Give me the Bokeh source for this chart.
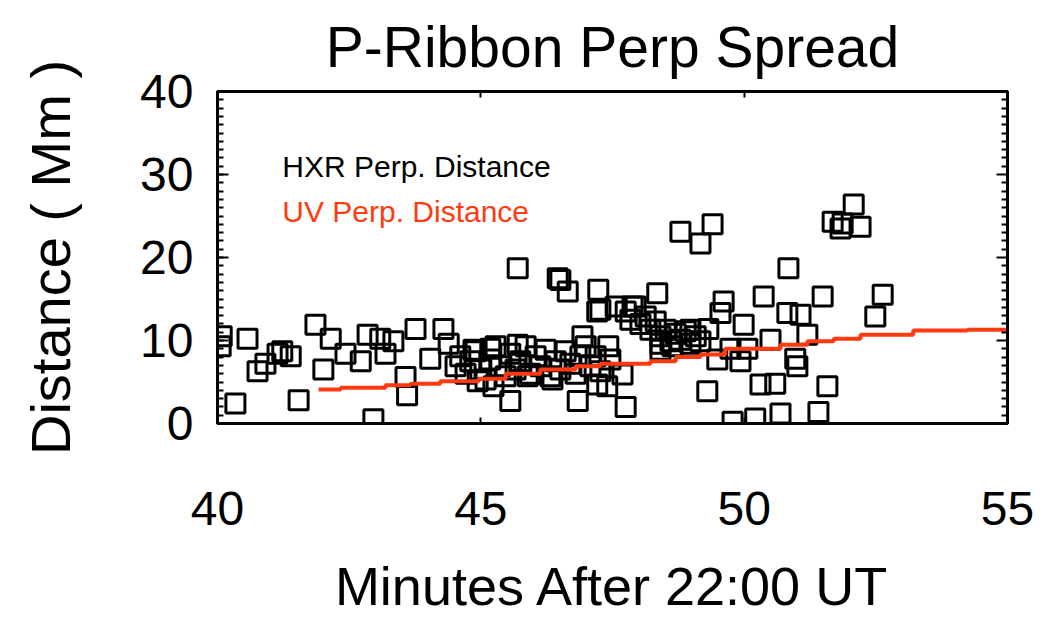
from bokeh.plotting import figure
from bokeh.models import Range1d, LinearAxis, FixedTicker, SingleIntervalTicker, Label
from bokeh.embed import file_html
from bokeh.resources import INLINE

# HXR perpendicular distance samples (minutes after 22:00 UT, Mm)
hxr_t = [40.08, 40.06, 40.57, 40.76, 40.91, 41.14, 41.23, 41.39, 40.34, 41.54,
         41.86, 42.15, 42.01, 42.43, 42.72, 42.85, 43.09, 43.34, 43.19, 42.96,
         43.57, 43.60, 43.76, 44.29, 44.39, 44.04,
         44.52, 44.61, 44.71, 44.80, 44.90, 44.99, 45.09, 45.18, 45.28, 45.37,
         45.47, 45.56, 45.66, 45.75, 45.85, 45.94, 46.04, 46.13, 46.23, 46.32,
         46.42, 46.51, 46.61, 46.70, 46.80, 46.89, 46.99, 47.08, 47.18, 47.27,
         44.94, 45.24, 45.89, 46.36, 45.56, 46.84, 46.93, 47.21, 45.70, 45.18, 44.86,
         45.70, 46.51, 46.46, 46.65, 47.23, 47.27, 48.35, 48.79, 49.17, 49.40,
         47.56, 47.88, 49.61, 49.55, 49.32, 49.99, 50.37, 50.82, 50.50, 49.49,
         49.93, 49.74, 50.06, 47.42, 47.46, 47.69, 47.21, 47.40, 47.75, 49.30,
         50.31, 50.59, 49.78, 50.21, 50.69, 48.41,
         47.75, 47.84, 47.94, 48.03, 48.13, 48.22, 48.32, 48.41, 48.51, 48.60,
         48.70, 48.79, 48.89, 48.98, 49.08, 49.17, 48.64, 48.41, 48.98,
         52.08, 51.68, 51.87, 51.83, 52.21, 50.84, 51.49, 52.63, 52.49, 51.07,
         51.20, 50.97, 51.01, 51.58, 51.41]
hxr_d = [10.5, 9.3, 10.2, 6.3, 7.2, 8.4, 8.7, 8.1, 2.4, 2.8,
         11.9, 10.2, 6.5, 8.4, 7.5, 10.7, 10.2, 9.9, 8.4, 0.5,
         5.6, 3.4, 11.4, 11.4, 9.6, 7.8,
         6.9, 8.1, 6.0, 7.5, 8.7, 6.5, 5.3, 7.7, 9.3, 6.9,
         5.7, 8.4, 6.5, 7.5, 9.3, 6.0, 8.1, 6.9, 8.9, 5.7,
         7.5, 6.5, 8.7, 7.2, 6.0, 8.1, 9.3, 6.9, 8.1, 6.3,
         5.1, 4.5, 5.7, 5.3, 2.7, 2.7, 10.5, 13.5, 9.5, 9.0, 8.9,
         18.7, 17.3, 17.5, 15.9, 16.1, 13.7, 15.7, 23.1, 21.7, 24.0,
         14.1, 14.1, 14.7, 13.3, 11.4, 11.9, 15.3, 13.3, 10.1, 7.7,
         7.5, 9.0, 9.0, 9.3, 7.7, 5.9, 4.7, 4.5, 2.0, 3.9,
         4.7, 4.8, 0.2, 0.6, 1.2, 8.9,
         13.5, 12.5, 14.1, 12.0, 12.9, 11.3, 12.3, 10.5, 11.3, 9.9,
         10.8, 10.1, 11.1, 9.6, 10.5, 9.9, 9.3, 9.6, 11.3,
         26.4, 24.3, 24.1, 23.5, 23.7, 18.7, 15.3, 15.5, 12.9, 13.1,
         10.7, 7.8, 6.9, 4.5, 1.4]

# UV perpendicular distance (stepped line)
uv_t = [41.92, 42.34, 43.19, 43.66, 44.23, 44.96, 45.47, 46.13, 46.80, 47.27,
        48.22, 48.70, 49.17, 49.64, 50.69, 51.20, 51.70, 52.21, 53.21, 54.24, 55.0]
uv_d = [4.1, 4.3, 4.6, 4.8, 5.1, 5.4, 6.0, 6.5, 6.9, 7.2,
        7.5, 8.0, 8.3, 9.0, 9.5, 9.9, 10.2, 10.7, 11.2, 11.3, 11.3]

x_ticks = [40, 45, 50, 55]
y_major = [10, 20, 30]
y_minor = [v for v in range(1, 40) if v % 10 != 0]
title_text = "P-Ribbon Perp Spread"
x_label = "Minutes After 22:00 UT"
y_label = "Distance ( Mm )"
legend_labels = ["HXR Perp. Distance", "UV Perp. Distance"]

FONT = "Liberation Sans"
RED = "#ff3a10"
FRAME_W, FRAME_H = 790, 332
X0, X1, Y0, Y1 = 40, 55, 0, 40

p = figure(frame_width=FRAME_W, frame_height=FRAME_H,
           min_border_left=217, min_border_right=33,
           min_border_top=90, min_border_bottom=191,
           x_range=Range1d(X0, X1), y_range=Range1d(Y0, Y1),
           output_backend="svg", toolbar_location=None,
           x_axis_location=None, y_axis_location=None)

p.background_fill_color = "white"
p.border_fill_color = "white"
p.grid.visible = False
p.outline_line_color = "black"
p.outline_line_width = 3

p.title.text = title_text
p.title.text_font = FONT
p.title.text_font_size = "57px"
p.title.text_font_style = "normal"
p.title.text_color = "black"
p.title.align = "center"
p.title.standoff = 25


def style_axis(ax):
    ax.axis_line_width = 3
    ax.axis_line_color = "black"
    ax.major_tick_line_width = 2
    ax.minor_tick_line_width = 2
    ax.major_tick_out = 0
    ax.minor_tick_out = 0
    ax.major_label_text_font = FONT
    ax.major_label_text_color = "black"
    ax.axis_label_text_font = FONT
    ax.axis_label_text_font_style = "normal"
    ax.axis_label_text_color = "black"


bottom = LinearAxis(ticker=FixedTicker(ticks=x_ticks, minor_ticks=[]))
style_axis(bottom)
bottom.major_tick_in = 6
bottom.major_label_text_font_size = "48px"
bottom.major_label_standoff = 68
bottom.axis_label = x_label
bottom.axis_label_text_font_size = "54px"
bottom.axis_label_standoff = 28
p.add_layout(bottom, "below")

# top axis: tick marks only (no labels)
top = LinearAxis(ticker=FixedTicker(ticks=[], minor_ticks=x_ticks[1:-1]))
style_axis(top)
top.minor_tick_in = 6
p.add_layout(top, "above")

left = LinearAxis(ticker=SingleIntervalTicker(interval=10, num_minor_ticks=10))
style_axis(left)
left.major_tick_in = 11
left.minor_tick_in = 6
left.major_label_text_font_size = "48px"
left.major_label_standoff = 24
left.axis_label = y_label
left.axis_label_text_font_size = "56px"
left.axis_label_standoff = 55
p.add_layout(left, "left")

# right axis: tick marks only (no labels)
right = LinearAxis(ticker=FixedTicker(ticks=[], minor_ticks=y_minor))
style_axis(right)
right.minor_tick_in = 6
p.add_layout(right, "right")
tick_len = 11 * (X1 - X0) / FRAME_W
p.segment(x0=[X1 - tick_len] * len(y_major), y0=y_major,
          x1=[X1] * len(y_major), y1=y_major,
          line_color="black", line_width=2)

p.scatter(hxr_t, hxr_d, marker="square", size=19, fill_color=None,
          line_color="black", line_width=3)
p.step(uv_t, uv_d, mode="after", line_color=RED, line_width=4)

p.add_layout(Label(x=41.23, y=31.0, text=legend_labels[0], text_font=FONT,
                   text_font_size="30px", text_color="black",
                   text_baseline="alphabetic"))
p.add_layout(Label(x=41.23, y=25.6, text=legend_labels[1], text_font=FONT,
                   text_font_size="30px", text_color=RED,
                   text_baseline="alphabetic"))

open("out.html", "w").write(file_html(p, INLINE))
